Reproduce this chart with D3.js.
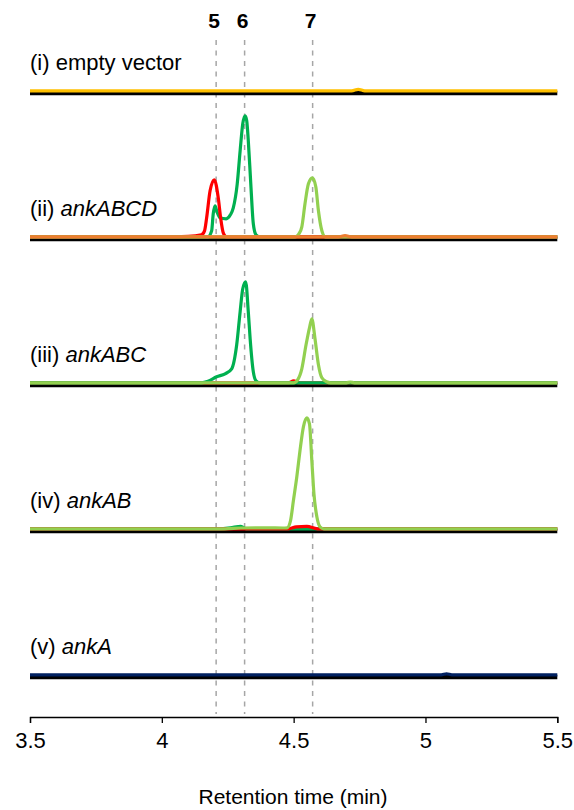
<!DOCTYPE html>
<html>
<head>
<meta charset="utf-8">
<script src="https://cdn.jsdelivr.net/npm/d3@7"></script>
<style>
	body { margin: 0; background: #fff; }
	svg { display: block; font-family: "Liberation Sans", Arial, sans-serif; }
</style>
</head>
<body>
<script>
// Retention time axis
const xTicks = [3.5, 4, 4.5, 5, 5.5];

// Compound markers (dashed lines)
const compoundNames = ["5", "6", "7"];
const compoundTimes = [4.206, 4.314, 4.572];

// Panel labels
const panelPrefix = ["(i) ", "(ii) ", "(iii) ", "(iv) ", "(v) "];
const panelGene = ["empty vector", "ankABCD", "ankABC", "ankAB", "ankA"];
const panelItalic = [false, true, true, true, true];

// Traces: [time (min), intensity]
// (i) empty vector
const emptyOrange = [[3.5, 0], [4.72, 0], [4.745, 1.5], [4.77, 0], [5.5, 0]];

// (ii) ankABCD
const abcdOrange = [[3.5, 0], [4.67, 0], [4.695, 1.2], [4.72, 0], [5.5, 0]];
const abcdDark = [[3.5, 0], [4.175, 0], [4.189, 6], [4.195, 23], [4.202, 31], [4.208, 26], [4.221, 19], [4.244, 18], [4.26, 22], [4.271, 29], [4.286, 53], [4.297, 86], [4.307, 113], [4.316, 121], [4.322, 116], [4.328, 96], [4.337, 55], [4.347, 13], [4.357, 2], [4.37, 0], [5.5, 0]];
const abcdRed = [[3.5, 0], [4.0, 0], [4.1, 0.5], [4.15, 2], [4.162, 6], [4.17, 19], [4.183, 46], [4.199, 57], [4.214, 39], [4.223, 19], [4.233, 4], [4.245, 0], [5.5, 0]];
const abcdLight = [[3.5, 0], [4.505, 0], [4.52, 3], [4.531, 10], [4.543, 33], [4.556, 53], [4.571, 59], [4.584, 50], [4.594, 26], [4.607, 6], [4.62, 0], [5.5, 0]];

// (iii) ankABC
const abcRed = [[3.5, 0], [4.48, 0], [4.5, 2], [4.52, 0], [5.5, 0]];
const abcDark = [[3.5, 0], [4.15, 0], [4.175, 1.5], [4.208, 6], [4.24, 9], [4.265, 14], [4.284, 38], [4.297, 71], [4.307, 94], [4.318, 101], [4.328, 71], [4.335, 44], [4.347, 11], [4.357, 2], [4.37, 0], [5.5, 0]];
const abcLight = [[3.5, 0], [4.5, 0], [4.515, 3], [4.531, 14], [4.547, 38], [4.56, 55], [4.569, 64], [4.581, 44], [4.594, 18], [4.607, 5], [4.625, 1], [4.64, 0], [4.7, 0], [4.715, 0.8], [4.73, 0], [5.5, 0]];

// (iv) ankAB
const abDark = [[3.5, 0], [4.22, 0], [4.26, 1], [4.3, 2.5], [4.32, 0], [5.5, 0]];
const abRed = [[3.5, 0], [4.48, 0], [4.51, 2], [4.55, 2.5], [4.59, 0], [5.5, 0]];
const abLight = [[3.5, 0], [4.24, 0], [4.3, 0.8], [4.4, 1], [4.46, 0.8], [4.475, 1], [4.488, 8], [4.499, 28], [4.512, 52], [4.524, 78], [4.537, 102], [4.55, 111], [4.56, 105], [4.569, 68], [4.577, 35], [4.588, 12], [4.6, 2], [4.615, 0], [5.5, 0]];

// (v) ankA
const aNavy = [[3.5, 0], [5.06, 0], [5.08, 1], [5.1, 0], [5.5, 0]];

const panelTraces = [
	[{ data: emptyOrange, color: "#FFC000" }],
	[{ data: abcdDark, color: "#00B050" }, { data: abcdRed, color: "#FF0000" }, { data: abcdLight, color: "#92D050" }, { data: abcdOrange, color: "#ED7D31" }],
	[{ data: abcRed, color: "#FF0000" }, { data: abcDark, color: "#00B050" }, { data: abcLight, color: "#92D050" }],
	[{ data: abDark, color: "#00B050" }, { data: abRed, color: "#FF0000" }, { data: abLight, color: "#92D050" }],
	[{ data: aNavy, color: "#002060" }]
];

const width = 574;
const height = 810;

const svg = d3.select("body").append("svg")
	.attr("width", width)
	.attr("height", height);

const x = d3.scaleLinear().domain([3.5, 5.5]).range([30, 557.3]);
const panelY = d3.scaleLinear().domain([0, 4]).range([93, 677]);
const axisY = 717;

// dashed marker lines
svg.append("g")
	.selectAll("line")
	.data(compoundTimes)
	.join("line")
	.attr("x1", d => x(d)).attr("x2", d => x(d))
	.attr("y1", 40).attr("y2", 714)
	.attr("stroke", "#A6A6A6")
	.attr("stroke-width", 1.5)
	.attr("stroke-dasharray", "5,5.5");

svg.append("g")
	.selectAll("text")
	.data(compoundTimes)
	.join("text")
	.attr("x", d => x(d) - 2)
	.attr("y", 28)
	.attr("text-anchor", "middle")
	.attr("font-weight", "bold")
	.attr("font-size", 21)
	.text((d, i) => compoundNames[i]);

// panels
panelTraces.forEach((traces, i) => {
	const base = panelY(i);
	const g = svg.append("g");

	g.append("line")
		.attr("x1", x(3.5)).attr("x2", x(5.5))
		.attr("y1", base).attr("y2", base)
		.attr("stroke", "#000")
		.attr("stroke-width", 4.5);

	const y = d3.scaleLinear().domain([0, 125]).range([base - 2.2, base - 127.2]);
	const line = d3.line()
		.x(d => x(d[0]))
		.y(d => y(d[1]))
		.curve(d3.curveMonotoneX);

	g.selectAll("path")
		.data(traces)
		.join("path")
		.attr("fill", "none")
		.attr("stroke", d => d.color)
		.attr("stroke-width", 3.2)
		.attr("stroke-linejoin", "round")
		.attr("d", d => line(d.data));

	const label = g.append("text")
		.attr("x", 30)
		.attr("y", base - 23.5)
		.attr("font-size", 22);
	label.append("tspan").text(panelPrefix[i]);
	label.append("tspan")
		.attr("font-style", panelItalic[i] ? "italic" : "normal")
		.text(panelGene[i]);
});

// x axis
const axis = svg.append("g")
	.attr("transform", `translate(0,${axisY})`)
	.call(d3.axisBottom(x).tickValues(xTicks).tickFormat(d3.format("")).tickSizeOuter(0).tickSize(6).tickPadding(9));
axis.select(".domain").attr("stroke", "#000").attr("stroke-width", 1.3);
axis.selectAll(".tick line").attr("stroke", "#000").attr("stroke-width", 1.3);
axis.selectAll(".tick text")
	.attr("font-size", 22)
	.attr("font-family", "Liberation Sans, Arial, sans-serif")
	.attr("fill", "#000");

svg.append("text")
	.attr("x", 293)
	.attr("y", 804)
	.attr("text-anchor", "middle")
	.attr("font-size", 21)
	.text("Retention time (min)");
</script>
</body>
</html>
